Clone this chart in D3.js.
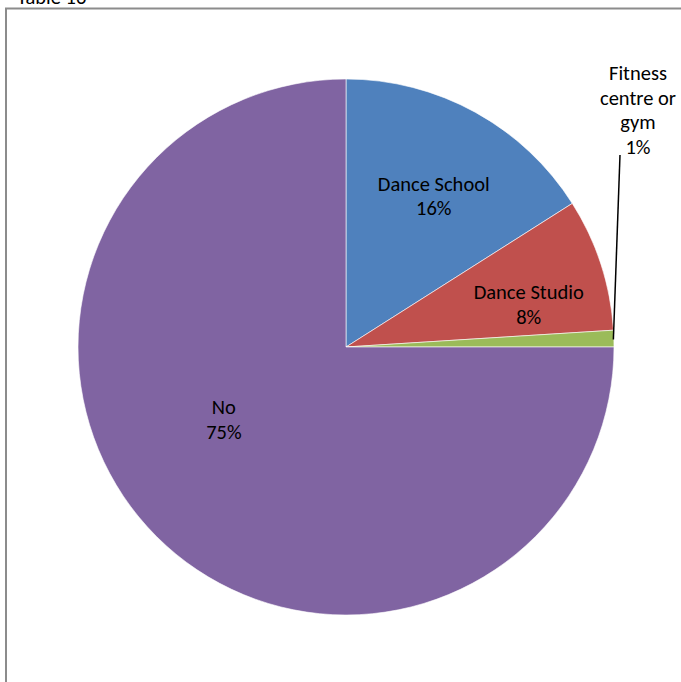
<!DOCTYPE html>
<html>
<head>
<meta charset="utf-8">
<script src="https://cdn.jsdelivr.net/npm/d3@7"></script>
<style>
  html, body { margin: 0; padding: 0; background: #fff; }
  svg { display: block; }
  text { font-family: Carlito, Calibri, "Open Sans", sans-serif; font-size: 20.5px; fill: #000; }
</style>
</head>
<body>
<svg id="chart" width="681" height="682"></svg>
<script>
// Pie data: where respondents take part in dance
const categories = ["Dance School", "Dance Studio", "Fitness centre or gym", "No"];
const values = [16, 8, 1, 75];
const colors = ["#4F81BD", "#C0504D", "#9BBB59", "#8064A2"];
// Label lines for each slice (name lines followed by the percentage)
const labelLines = [
  ["Dance School"],
  ["Dance Studio"],
  ["Fitness", "centre or", "gym"],
  ["No"]
];

const svg = d3.select("#chart");
const W = 681, H = 682;
const cx = 346, cy = 347, r = 268;

// Caption above the frame, mostly scrolled off the top
svg.append("text").attr("x", 17).attr("y", 4).text("Table 16");

// Chart frame
svg.append("rect")
  .attr("x", 6).attr("y", 8.5)
  .attr("width", W + 10).attr("height", H + 10)
  .attr("fill", "#fff")
  .attr("stroke", "#8c8c8c").attr("stroke-width", 2);

const data = categories.map((c, i) => ({ name: c, value: values[i], color: colors[i], lines: labelLines[i] }));

const pie = d3.pie().sort(null).value(d => d.value);
const arcs = pie(data);
const arc = d3.arc().innerRadius(0).outerRadius(r);

const g = svg.append("g").attr("transform", `translate(${cx},${cy})`);

g.selectAll("path.slice")
  .data(arcs)
  .join("path")
  .attr("class", "slice")
  .attr("d", arc)
  .attr("fill", d => d.data.color)
  .attr("stroke", "#ffffff")
  .attr("stroke-width", 0.6);

const lineH = 24.5;
const fmt = v => Math.round(v) + "%";

// Inside-label placement: radial fraction of the radius and angular nudge (degrees)
const insideFrac = [0.653, 0.70, null, 0.53];
const angleNudge = [1.3, 4.9, 0, 14.3];
const rad = Math.PI / 180;

arcs.forEach((a, i) => {
  const lines = a.data.lines.concat([fmt(a.data.value)]);
  let x, yTop;
  const mid = (a.startAngle + a.endAngle) / 2;
  if (insideFrac[i] !== null) {
    const ang = mid + angleNudge[i] * rad;
    const rr = r * insideFrac[i];
    x = Math.sin(ang) * rr;
    const yc = -Math.cos(ang) * rr;
    yTop = yc - (lines.length - 1) * lineH / 2;
  } else {
    // Small slice: label outside with a leader line
    const px = Math.sin(mid) * r, py = -Math.cos(mid) * r;
    x = 292; yTop = -274;
    g.append("line")
      .attr("x1", px - 0.5).attr("y1", py + 1)
      .attr("x2", 274).attr("y2", -192)
      .attr("stroke", "#000").attr("stroke-width", 1.5);
  }
  const t = g.append("text").attr("text-anchor", "middle");
  lines.forEach((s, k) => {
    t.append("tspan")
      .attr("x", x)
      .attr("y", yTop + k * lineH)
      .attr("dy", "0.35em")
      .text(s);
  });
});
</script>
</body>
</html>
